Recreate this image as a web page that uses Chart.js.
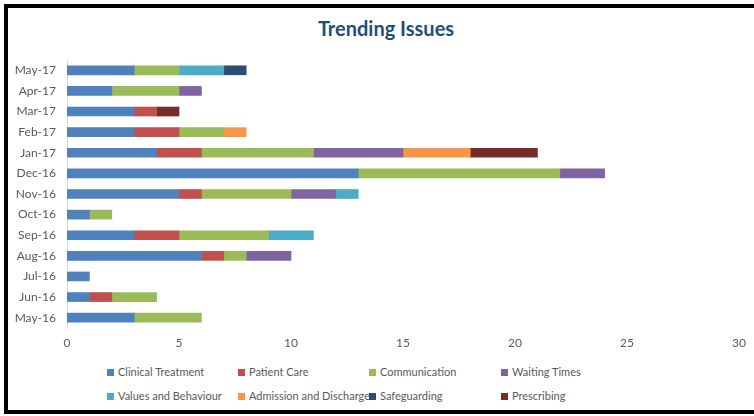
<!DOCTYPE html>
<html>
<head>
<meta charset="utf-8">
<script src="https://cdn.jsdelivr.net/npm/chart.js@4/dist/chart.umd.min.js"></script>
<style>
  body { margin: 0; width: 754px; height: 416px; overflow: hidden; background: #fff; font-family: Lato, "Open Sans", sans-serif; }
  #frame { position: absolute; left: 4px; top: 4px; width: 800px; height: 402px; border: 4px solid #000; }
  #title { position: absolute; left: 0; width: 772px; top: 16px; text-align: center; font-size: 20px; font-weight: bold; color: #1F4E79; }
  #wrap { position: absolute; left: 0; top: 0; width: 754px; height: 360px; }
  #legend { position: absolute; left: 0; top: 365px; width: 754px; height: 50px; }
  .item { position: absolute; font-size: 11px; color: #595959; white-space: nowrap; line-height: 14px; }
  .item span { display: inline-block; width: 7px; height: 7px; margin-right: 4px; vertical-align: 0px; }
</style>
</head>
<body>
<div id="frame"></div>
<div id="title">Trending Issues</div>
<div id="wrap"><canvas id="chart"></canvas></div>
<div id="legend"></div>
<script>
const months = ['May-17', 'Apr-17', 'Mar-17', 'Feb-17', 'Jan-17', 'Dec-16', 'Nov-16', 'Oct-16', 'Sep-16', 'Aug-16', 'Jul-16', 'Jun-16', 'May-16'];

const clinicalTreatment = [3, 2, 3, 3, 4, 13, 5, 1, 3, 6, 1, 1, 3];
const patientCare       = [0, 0, 1, 2, 2, 0, 1, 0, 2, 1, 0, 1, 0];
const communication     = [2, 3, 0, 2, 5, 9, 4, 1, 4, 1, 0, 2, 3];
const waitingTimes      = [0, 1, 0, 0, 4, 2, 2, 0, 0, 2, 0, 0, 0];
const valuesBehaviour   = [2, 0, 0, 0, 0, 0, 1, 0, 2, 0, 0, 0, 0];
const admission         = [0, 0, 0, 1, 3, 0, 0, 0, 0, 0, 0, 0, 0];
const safeguarding      = [1, 0, 0, 0, 0, 0, 0, 0, 0, 0, 0, 0, 0];
const prescribing       = [0, 0, 1, 0, 3, 0, 0, 0, 0, 0, 0, 0, 0];

const xTicks = [0, 5, 10, 15, 20, 25, 30];

const series = [
  { label: 'Clinical Treatment', data: clinicalTreatment, color: '#4F81BD' },
  { label: 'Patient Care', data: patientCare, color: '#C0504D' },
  { label: 'Communication', data: communication, color: '#9BBB59' },
  { label: 'Waiting Times', data: waitingTimes, color: '#8064A2' },
  { label: 'Values and Behaviour', data: valuesBehaviour, color: '#4BACC6' },
  { label: 'Admission and Discharge', data: admission, color: '#F79646' },
  { label: 'Safeguarding', data: safeguarding, color: '#2C4D75' },
  { label: 'Prescribing', data: prescribing, color: '#772C2A' }
];

new Chart(document.getElementById('chart'), {
  type: 'bar',
  data: {
    labels: months,
    datasets: series.map(s => ({
      label: s.label,
      data: s.data.map(v => (v === 0 ? null : v)), // skip empty segments
      backgroundColor: s.color,
      borderWidth: 0,
      barThickness: 9
    }))
  },
  options: {
    indexAxis: 'y',
    responsive: true,
    maintainAspectRatio: false,
    animation: false,
    layout: { padding: { top: 60, right: 14, left: 0, bottom: 0 } },
    plugins: {
      legend: { display: false },
      tooltip: { enabled: false }
    },
    scales: {
      x: {
        stacked: true,
        min: 0,
        max: 30,
        afterBuildTicks: axis => { axis.ticks = xTicks.map(v => ({ value: v })); },
        grid: { display: false, drawTicks: false },
        border: { display: false },
        ticks: { color: '#595959', font: { family: 'Lato', size: 12 }, padding: 8 },
        afterFit: axis => { axis.height = 32; }
      },
      y: {
        stacked: true,
        grid: { display: false, drawTicks: false },
        border: { display: true, color: '#D9D9D9', width: 1 },
        ticks: { color: '#595959', font: { family: 'Lato', size: 12 }, padding: 11 },
        afterFit: axis => { axis.width = 67; }
      }
    }
  }
});

// legend in four columns, two rows
const legend = document.getElementById('legend');
const colX = [107, 238, 369, 501];
const rowY = [0, 24];
series.forEach((s, i) => {
  const el = document.createElement('div');
  el.className = 'item';
  el.style.left = colX[i % 4] + 'px';
  el.style.top = rowY[Math.floor(i / 4)] + 'px';
  el.innerHTML = '<span style="background:' + s.color + '"></span>' + s.label;
  legend.appendChild(el);
});
</script>
</body>
</html>
